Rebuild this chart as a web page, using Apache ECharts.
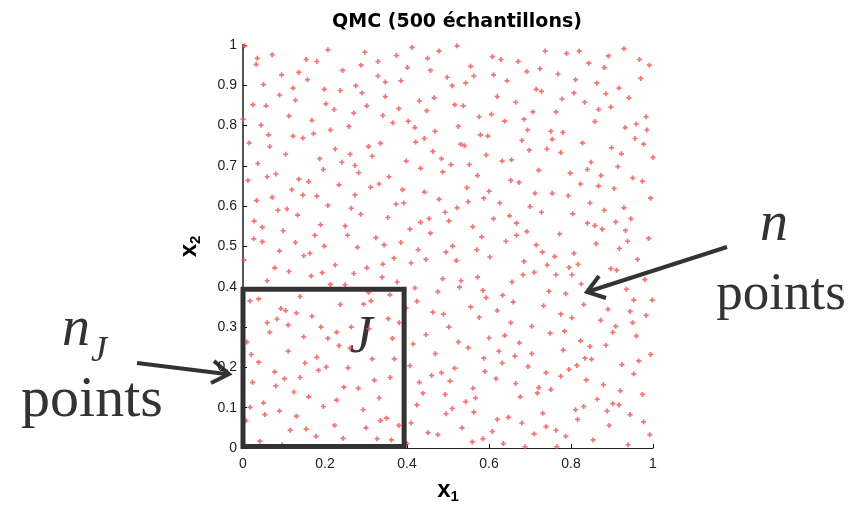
<!DOCTYPE html>
<html>
<head>
<meta charset="utf-8">
<title>QMC (500 échantillons)</title>
<script src="https://cdn.jsdelivr.net/npm/echarts@6.0.0/dist/echarts.min.js"></script>
<style>
  html, body { margin: 0; padding: 0; background: #fff; }
  #main { width: 859px; height: 509px; }
</style>
</head>
<body>
<div id="main"></div>
<script>
// points, split in three horizontal bands (x1, x2)
var pointsTop = [
  [0.004,0.998],[0.207,0.988],[0.035,0.967],[0.071,0.976],[0.297,0.982],[0.032,0.952],[0.154,0.964],[0.180,0.959],[0.288,0.950],[0.243,0.937],
  [0.094,0.926],[0.136,0.932],[0.157,0.914],[0.050,0.902],[0.275,0.899],[0.122,0.893],[0.198,0.890],[0.237,0.887],[0.290,0.881],[0.089,0.876],
  [0.128,0.863],[0.024,0.852],[0.056,0.849],[0.202,0.854],[0.222,0.840],[0.302,0.849],[0.112,0.824],[0.270,0.831],[0.000,0.816],[0.168,0.813],
  [0.044,0.801],[0.258,0.798],[0.213,0.789],[0.062,0.777],[0.172,0.780],[0.122,0.774],[0.146,0.769],[0.015,0.757],[0.065,0.748],[0.306,0.748],
  [0.225,0.742],[0.104,0.729],[0.261,0.729],[0.315,0.724],[0.187,0.718],[0.036,0.706],[0.241,0.709],[0.273,0.701],[0.196,0.691],[0.080,0.680],[0.282,0.683],
  [0.412,0.994],[0.522,0.998],[0.374,0.974],[0.478,0.985],[0.450,0.967],[0.608,0.971],[0.629,0.964],[0.329,0.959],[0.401,0.944],[0.555,0.947],
  [0.457,0.937],[0.329,0.923],[0.347,0.908],[0.385,0.911],[0.498,0.920],[0.563,0.923],[0.611,0.926],[0.510,0.899],[0.543,0.906],[0.644,0.911],
  [0.347,0.872],[0.430,0.861],[0.466,0.869],[0.620,0.872],[0.380,0.842],[0.448,0.837],[0.516,0.852],[0.537,0.849],[0.341,0.825],[0.403,0.811],
  [0.365,0.807],[0.576,0.822],[0.606,0.828],[0.638,0.811],[0.419,0.795],[0.525,0.798],[0.468,0.786],[0.579,0.777],[0.597,0.774],[0.442,0.768],
  [0.335,0.756],[0.421,0.759],[0.531,0.754],[0.540,0.750],[0.463,0.736],[0.593,0.727],[0.484,0.718],[0.398,0.712],[0.632,0.712],[0.655,0.715],
  [0.507,0.703],[0.552,0.703],[0.433,0.694],[0.487,0.685],[0.572,0.676],
  [0.929,0.991],[0.737,0.985],[0.789,0.979],[0.820,0.985],[0.891,0.973],[0.671,0.959],[0.692,0.934],[0.724,0.941],[0.843,0.955],[0.881,0.944],
  [0.967,0.964],[0.991,0.950],[0.768,0.928],[0.811,0.914],[0.863,0.906],[0.970,0.917],[0.715,0.890],[0.728,0.885],[0.807,0.881],[0.885,0.879],
  [0.917,0.893],[0.665,0.858],[0.778,0.866],[0.833,0.858],[0.941,0.869],[0.707,0.834],[0.763,0.834],[0.867,0.840],[0.897,0.846],[0.685,0.816],
  [0.858,0.810],[0.983,0.822],[0.694,0.789],[0.751,0.786],[0.780,0.783],[0.932,0.795],[0.959,0.804],[0.985,0.789],[0.680,0.763],[0.754,0.766],
  [0.828,0.757],[0.956,0.768],[0.698,0.739],[0.741,0.742],[0.775,0.733],[0.899,0.745],[0.923,0.730],[0.977,0.754],[1.000,0.721],[0.849,0.709],
  [0.721,0.689],[0.798,0.682],[0.840,0.691],[0.914,0.698],[0.873,0.676]
];

var pointsMiddle = [
  [0.012,0.664],[0.059,0.673],[0.136,0.667],[0.160,0.661],[0.234,0.653],[0.311,0.647],[0.119,0.641],[0.071,0.622],[0.146,0.628],[0.180,0.625],
  [0.273,0.628],[0.033,0.614],[0.207,0.602],[0.264,0.595],[0.085,0.590],[0.107,0.593],[0.133,0.578],[0.287,0.580],[0.027,0.563],[0.047,0.548],
  [0.189,0.554],[0.249,0.551],[0.098,0.539],[0.175,0.528],[0.255,0.528],[0.324,0.522],[0.026,0.519],[0.047,0.512],[0.128,0.510],[0.198,0.501],
  [0.279,0.498],[0.089,0.489],[0.148,0.477],[0.163,0.483],[0.002,0.466],[0.225,0.454],[0.077,0.447],[0.302,0.447],[0.112,0.438],[0.193,0.435],
  [0.270,0.433],[0.166,0.427],[0.059,0.415],[0.213,0.406],[0.249,0.405],[0.017,0.365],[0.038,0.370],[0.139,0.376],[0.092,0.346],[0.104,0.341],
  [0.237,0.356],[0.294,0.357],[0.312,0.365],[0.306,0.386],
  [0.356,0.673],[0.332,0.655],[0.389,0.641],[0.442,0.635],[0.546,0.646],[0.600,0.637],[0.653,0.664],[0.478,0.617],[0.373,0.605],[0.392,0.608],
  [0.549,0.611],[0.587,0.620],[0.626,0.608],[0.522,0.596],[0.493,0.585],[0.353,0.572],[0.433,0.560],[0.454,0.569],[0.502,0.563],[0.611,0.569],
  [0.650,0.576],[0.407,0.543],[0.457,0.533],[0.560,0.549],[0.344,0.504],[0.385,0.510],[0.511,0.501],[0.582,0.524],[0.641,0.513],[0.427,0.492],
  [0.495,0.486],[0.570,0.492],[0.368,0.471],[0.446,0.468],[0.520,0.465],[0.602,0.474],[0.341,0.456],[0.410,0.459],[0.339,0.424],[0.376,0.412],
  [0.487,0.420],[0.532,0.415],[0.572,0.424],[0.656,0.412],[0.419,0.397],[0.528,0.399],[0.358,0.380],[0.475,0.388],[0.585,0.391],[0.633,0.379],
  [0.593,0.373],[0.424,0.364],[0.659,0.362],[0.398,0.347],[0.555,0.350],[0.620,0.341],
  [0.673,0.659],[0.823,0.655],[0.950,0.670],[0.974,0.662],[0.867,0.650],[0.905,0.644],[0.712,0.632],[0.754,0.632],[0.793,0.626],[0.994,0.620],
  [0.846,0.608],[0.700,0.599],[0.728,0.585],[0.881,0.590],[0.929,0.596],[0.804,0.581],[0.667,0.558],[0.840,0.558],[0.858,0.552],[0.876,0.543],
  [0.909,0.561],[0.946,0.569],[0.667,0.528],[0.692,0.537],[0.772,0.531],[0.933,0.540],[0.989,0.520],[0.715,0.504],[0.861,0.507],[0.938,0.513],
  [0.730,0.486],[0.760,0.475],[0.807,0.483],[0.918,0.495],[0.685,0.463],[0.742,0.454],[0.795,0.448],[0.817,0.456],[0.962,0.468],[0.683,0.430],
  [0.710,0.436],[0.763,0.430],[0.802,0.430],[0.897,0.445],[0.911,0.441],[0.980,0.418],[0.825,0.407],[0.746,0.389],[0.787,0.383],[0.935,0.394],
  [0.953,0.367],[0.998,0.367],[0.733,0.353],[0.831,0.356],[0.890,0.344]
];

var pointsBottom = [
  [0.130,0.335],[0.168,0.327],[0.059,0.311],[0.083,0.320],[0.110,0.305],[0.190,0.300],[0.264,0.300],[0.307,0.296],[0.065,0.287],[0.148,0.276],
  [0.207,0.272],[0.228,0.287],[0.009,0.263],[0.234,0.254],[0.261,0.248],[0.110,0.240],[0.020,0.232],[0.038,0.213],[0.180,0.225],[0.151,0.211],
  [0.315,0.221],[0.077,0.189],[0.184,0.193],[0.203,0.201],[0.256,0.199],[0.023,0.163],[0.101,0.172],[0.139,0.175],[0.320,0.168],[0.080,0.154],
  [0.246,0.151],[0.281,0.148],[0.124,0.139],[0.160,0.127],[0.050,0.112],[0.228,0.119],[0.017,0.101],[0.089,0.092],[0.196,0.103],[0.293,0.095],
  [0.053,0.083],[0.130,0.079],[0.007,0.068],[0.223,0.056],[0.300,0.050],[0.115,0.044],[0.154,0.047],[0.178,0.029],[0.244,0.024],[0.041,0.017],[0.095,0.008],
  [0.354,0.321],[0.381,0.311],[0.463,0.337],[0.489,0.332],[0.576,0.324],[0.653,0.311],[0.364,0.272],[0.502,0.300],[0.446,0.281],[0.415,0.258],
  [0.525,0.263],[0.549,0.249],[0.600,0.273],[0.638,0.279],[0.369,0.221],[0.469,0.234],[0.587,0.223],[0.624,0.240],[0.632,0.211],[0.407,0.204],
  [0.516,0.198],[0.484,0.187],[0.590,0.190],[0.359,0.175],[0.430,0.163],[0.460,0.180],[0.505,0.166],[0.617,0.172],[0.439,0.136],[0.493,0.133],
  [0.561,0.148],[0.332,0.124],[0.567,0.124],[0.543,0.115],[0.424,0.107],[0.510,0.098],[0.495,0.085],[0.563,0.089],[0.335,0.068],[0.350,0.074],
  [0.380,0.056],[0.410,0.062],[0.620,0.071],[0.647,0.076],[0.534,0.050],[0.451,0.038],[0.475,0.033],[0.608,0.041],[0.585,0.023],[0.327,0.023],
  [0.362,0.020],[0.559,0.015],[0.635,0.011],[0.400,0.011],
  [0.775,0.332],[0.802,0.323],[0.872,0.317],[0.944,0.339],[0.983,0.329],[0.704,0.302],[0.749,0.285],[0.784,0.290],[0.909,0.302],[0.902,0.287],
  [0.950,0.311],[0.959,0.278],[0.674,0.261],[0.823,0.266],[0.846,0.252],[0.885,0.255],[0.663,0.228],[0.704,0.234],[0.781,0.243],[0.834,0.223],
  [0.850,0.220],[0.994,0.232],[0.695,0.202],[0.739,0.187],[0.795,0.195],[0.814,0.205],[0.924,0.207],[0.965,0.216],[0.953,0.184],[0.775,0.178],
  [0.837,0.169],[0.665,0.160],[0.721,0.150],[0.751,0.145],[0.879,0.157],[0.676,0.127],[0.718,0.136],[0.864,0.121],[0.920,0.142],[0.974,0.133],
  [0.811,0.095],[0.831,0.103],[0.888,0.092],[0.902,0.110],[0.917,0.107],[0.731,0.086],[0.816,0.071],[0.944,0.083],[0.680,0.062],[0.739,0.053],
  [0.763,0.044],[0.893,0.056],[0.977,0.065],[0.710,0.035],[0.787,0.029],[0.992,0.033],[0.854,0.020],[0.688,0.003],[0.765,0.003],[0.939,0.008]
];

// the region J (corners, closed)
var boxJ = [[0, 0.004], [0, 0.394], [0.393, 0.394], [0.393, 0.004], [0, 0.004]];

var chart = echarts.init(document.getElementById('main'), null, { renderer: 'canvas' });

var dark = '#333';
var serif = '"Liberation Serif", "DejaVu Serif", serif';

var option = {
  animation: false,
  backgroundColor: '#fff',
  title: {
    text: 'QMC (500 échantillons)',
    left: 452,
    top: 8,
    textAlign: 'center',
    textStyle: { fontFamily: 'DejaVu Sans', fontWeight: 'bold', fontSize: 19, color: '#000' }
  },
  grid: { left: 243, top: 45, width: 410, height: 410, containLabel: false },
  xAxis: {
    type: 'value', min: 0, max: 1, interval: 0.2,
    name: '{b|x}{s|1}',
    nameLocation: 'middle', nameGap: 28,
    nameTextStyle: {
      rich: {
        b: { fontFamily: 'Liberation Sans', fontWeight: 'bold', fontSize: 24, color: '#000', verticalAlign: 'middle', lineHeight: 28 },
        s: { fontFamily: 'Liberation Sans', fontWeight: 'bold', fontSize: 15, color: '#000', verticalAlign: 'bottom', padding: [10, 0, 0, 0] }
      }
    },
    axisLine: { onZero: false, lineStyle: { color: '#222', width: 1 } },
    axisTick: { inside: true, length: 4, lineStyle: { color: '#000' } },
    axisLabel: { margin: 9, fontFamily: 'Liberation Sans', fontSize: 14, color: '#222' },
    splitLine: { show: false }
  },
  yAxis: {
    type: 'value', min: 0, max: 1, interval: 0.1,
    name: '{b|x}{s|2}',
    nameLocation: 'middle', nameGap: 40, nameRotate: 90,
    nameTextStyle: {
      rich: {
        b: { fontFamily: 'Liberation Sans', fontWeight: 'bold', fontSize: 24, color: '#000', verticalAlign: 'middle', lineHeight: 28 },
        s: { fontFamily: 'Liberation Sans', fontWeight: 'bold', fontSize: 15, color: '#000', verticalAlign: 'bottom', padding: [10, 0, 0, 0] }
      }
    },
    axisLine: { onZero: false, lineStyle: { color: '#555', width: 2 } },
    axisTick: { inside: true, length: 4, lineStyle: { color: '#000' } },
    axisLabel: { margin: 6, fontFamily: 'Liberation Sans', fontSize: 14, color: '#222' },
    splitLine: { show: false }
  },
  series: [
    {
      name: 'QMC',
      type: 'scatter',
      clip: false,
      symbol: 'path://M1,0H2V1H3V2H2V3H1V2H0V1H1Z',
      symbolSize: 5,
      itemStyle: { color: '#ff4a4a' },
      data: pointsTop.concat(pointsMiddle, pointsBottom)
    },
    {
      name: 'J',
      type: 'line',
      clip: false,
      symbol: 'none',
      silent: true,
      z: 5,
      lineStyle: { color: dark, width: 5, join: 'miter', cap: 'square' },
      data: boxJ
    }
  ],
  graphic: [
    // label J inside the box
    { type: 'text', x: 361, y: 338, style: { text: 'J', font: 'italic 52px ' + serif, fill: dark, align: 'center', verticalAlign: 'middle' } },
    // left annotation n_J points
    { type: 'text', x: 76, y: 330, style: { text: 'n', font: 'italic 56px ' + serif, fill: dark, align: 'center', verticalAlign: 'middle' } },
    { type: 'text', x: 99, y: 352, style: { text: 'J', font: 'italic 36px ' + serif, fill: dark, align: 'center', verticalAlign: 'middle' } },
    { type: 'text', x: 92, y: 401, style: { text: 'points', font: '58px ' + serif, fill: dark, align: 'center', verticalAlign: 'middle' } },
    { type: 'line', shape: { x1: 137, y1: 363, x2: 226, y2: 374 }, style: { stroke: dark, lineWidth: 4 } },
    { type: 'polyline', shape: { points: [[214, 361], [229, 374], [211, 383]] }, style: { stroke: dark, lineWidth: 4, fill: null, lineJoin: 'miter' } },
    // right annotation n points
    { type: 'text', x: 774, y: 225, style: { text: 'n', font: 'italic 56px ' + serif, fill: dark, align: 'center', verticalAlign: 'middle' } },
    { type: 'text', x: 781, y: 295, style: { text: 'points', font: '53px ' + serif, fill: dark, align: 'center', verticalAlign: 'middle' } },
    { type: 'line', shape: { x1: 727, y1: 247, x2: 590, y2: 291 }, style: { stroke: dark, lineWidth: 4 } },
    { type: 'polyline', shape: { points: [[599, 276], [587, 292], [606, 298]] }, style: { stroke: dark, lineWidth: 4, fill: null, lineJoin: 'miter' } }
  ]
};

chart.setOption(option);
</script>
</body>
</html>
